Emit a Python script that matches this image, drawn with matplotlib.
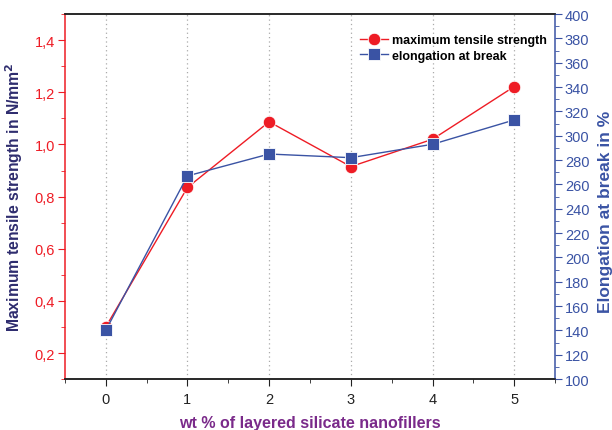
import matplotlib.pyplot as plt
from matplotlib.ticker import MultipleLocator, FuncFormatter

plt.rcParams["font.family"] = ["Liberation Sans", "DejaVu Sans"]

# ── Data ─────────────────────────────────────────────────────────────────────
filler_wt = [0, 1, 2, 3, 4, 5]
tensile_strength = [0.30, 0.835, 1.087, 0.915, 1.02, 1.222]   # N/mm²
elongation = [140, 267, 285, 282, 293, 313]                    # %

RED = "#ee1c25"
BLUE = "#3a53a4"
NAVY = "#2e2c6e"
PURPLE = "#7a2a8a"

fig, ax = plt.subplots(figsize=(6.12, 4.31), dpi=100)
fig.subplots_adjust(left=0.106, right=0.907, top=0.965, bottom=0.118)
ax2 = ax.twinx()

ax.plot(filler_wt, tensile_strength, color=RED, lw=1, marker="o", ms=9,
        mec="white", mew=0.6, label="maximum tensile strength", zorder=3)
ax2.plot(filler_wt, elongation, color=BLUE, lw=1, marker="s", ms=8.5,
         mec="white", mew=0.6, label="elongation at break", zorder=3)

# ── Axes ─────────────────────────────────────────────────────────────────────
ax.set_xlim(-0.5, 5.5)
ax.set_ylim(0.1, 1.5)
ax2.set_ylim(100, 400)

ax.xaxis.set_major_locator(MultipleLocator(1))
ax.xaxis.set_minor_locator(MultipleLocator(0.5))
ax.yaxis.set_major_locator(MultipleLocator(0.2))
ax.yaxis.set_minor_locator(MultipleLocator(0.1))
ax.yaxis.set_major_formatter(FuncFormatter(lambda v, p: f"{v:.1f}".replace(".", ",")))
ax2.yaxis.set_major_locator(MultipleLocator(20))
ax2.yaxis.set_minor_locator(MultipleLocator(10))

ax.grid(axis="x", which="major", color="#aaaaaa", ls=(0, (1, 2.5)), lw=0.9)

for a in (ax, ax2):
    a.tick_params(which="both", direction="out")
    a.tick_params(which="major", length=5, pad=2)
    a.tick_params(which="minor", length=3)

ax.tick_params(axis="x", which="both", colors="#222222", labelsize=10.5, pad=4)
ax.tick_params(axis="y", which="both", colors=RED, labelsize=10.5)
ax2.tick_params(axis="y", which="both", colors=BLUE, labelsize=10.5)

ax.spines["left"].set_color(RED)
ax2.spines["left"].set_visible(False)
ax2.spines["right"].set_color(BLUE)
ax.spines["right"].set_visible(False)
for a in (ax, ax2):
    a.spines["top"].set_color("#222222")
    a.spines["bottom"].set_color("#222222")
    for s in a.spines.values():
        s.set_linewidth(1.1)

ax.set_xlabel("wt % of layered silicate nanofillers", color=PURPLE,
              fontsize=11.5, fontweight="bold", labelpad=7)
ax.set_ylabel("Maximum tensile strength in N/mm$^\\mathbf{2}$", color=NAVY,
              fontsize=11.3, fontweight="bold", labelpad=7)
ax2.set_ylabel("Elongation at break in %", color=BLUE,
               fontsize=12.5, fontweight="bold")
ax2.yaxis.set_label_coords(1.088, 0.46)

# ── Legend ───────────────────────────────────────────────────────────────────
h1, l1 = ax.get_legend_handles_labels()
h2, l2 = ax2.get_legend_handles_labels()
leg = ax2.legend(h1 + h2, l1 + l2, loc="upper left", bbox_to_anchor=(0.58, 0.975),
                 frameon=False, handlelength=2.2, handletextpad=0.3,
                 labelspacing=0.25, prop={"weight": "bold", "size": 9})

fig.savefig("out.png", dpi=100)
